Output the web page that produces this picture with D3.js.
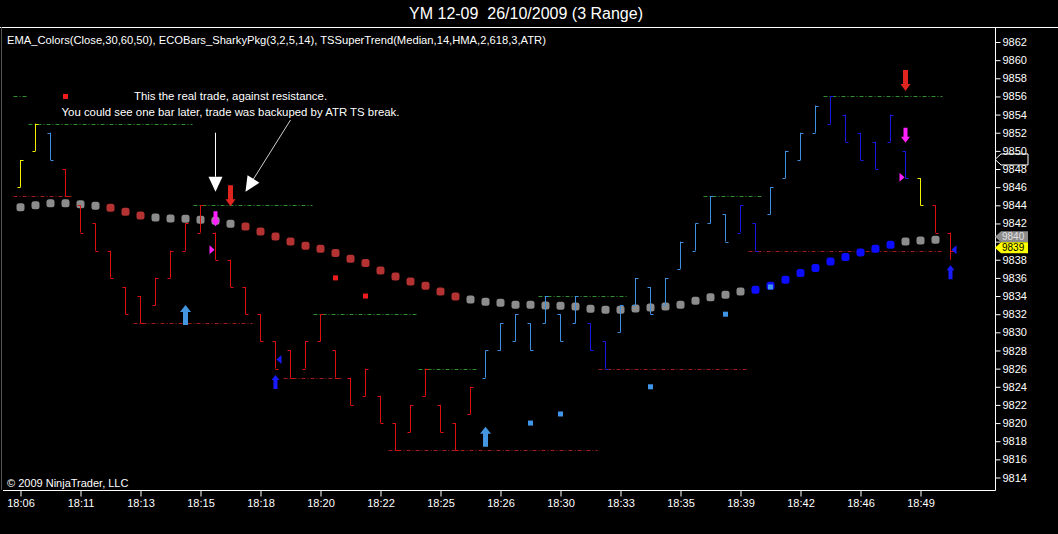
<!DOCTYPE html>
<html>
<head>
<meta charset="utf-8">
<script src="https://cdn.jsdelivr.net/npm/d3@7"></script>
<style>
html, body { margin: 0; padding: 0; background: #000; }
svg { display: block; font-family: Arial, "Liberation Sans", sans-serif; }
</style>
</head>
<body>
<svg id="chart" width="1058" height="534"></svg>
<script>
// values

var tickBars = [0, 4, 8, 12, 16, 20, 24, 28, 32, 36, 40, 44, 48, 52, 56, 60]
var timeLabels = ['18:06', '18:11', '18:13', '18:15', '18:18', '18:20', '18:22', '18:25',
                  '18:26', '18:30', '18:33', '18:35', '18:39', '18:42', '18:46', '18:49']
var priceTicks = [9814, 9816, 9818, 9820, 9822, 9824, 9826, 9828, 9830, 9832, 9834, 9836, 9838,
                  9840, 9842, 9844, 9846, 9848, 9850, 9852, 9854, 9856, 9858, 9860, 9862]

// 3 range bars
var barOpen = [9846, 9850, 9852, 9848, 9844, 9842, 9839, 9835, 9834, 9833,
               9836, 9839, 9841, 9841, 9838, 9835, 9832, 9829, 9828, 9826,
               9829, 9828, 9825, 9823, 9823, 9820, 9819, 9823, 9822, 9820,
               9821, 9825, 9828, 9829, 9831, 9831, 9832, 9831, 9831, 9829,
               9830, 9833, 9835, 9833, 9837, 9839, 9842, 9843, 9841, 9842,
               9843, 9847, 9849, 9852, 9853, 9854, 9852, 9851, 9851, 9850,
               9847, 9844, 9841]
var barHigh = [9849, 9853, 9852, 9848, 9844, 9842, 9839, 9835, 9834, 9836,
               9839, 9842, 9844, 9841, 9838, 9835, 9832, 9829, 9828, 9829,
               9832, 9828, 9825, 9826, 9823, 9820, 9822, 9826, 9822, 9820,
               9824, 9828, 9831, 9832, 9831, 9834, 9832, 9834, 9831, 9829,
               9833, 9836, 9835, 9836, 9840, 9842, 9845, 9843, 9844, 9842,
               9846, 9850, 9852, 9855, 9856, 9854, 9852, 9851, 9854, 9850,
               9847, 9844, 9841]
var barLow = [9846, 9850, 9849, 9845, 9841, 9839, 9836, 9832, 9831, 9833,
              9836, 9839, 9841, 9838, 9835, 9832, 9829, 9826, 9825, 9826,
              9829, 9825, 9822, 9823, 9820, 9817, 9819, 9823, 9819, 9817,
              9821, 9825, 9828, 9829, 9828, 9831, 9829, 9831, 9828, 9826,
              9830, 9833, 9832, 9833, 9837, 9839, 9842, 9840, 9841, 9839,
              9843, 9847, 9849, 9852, 9853, 9851, 9849, 9848, 9851, 9847,
              9844, 9841, 9838]
var barClose = [9849, 9853, 9849, 9845, 9841, 9839, 9836, 9832, 9831, 9836,
                9839, 9842, 9844, 9838, 9835, 9832, 9829, 9826, 9825, 9829,
                9832, 9825, 9822, 9826, 9820, 9817, 9822, 9826, 9819, 9817,
                9824, 9828, 9831, 9832, 9828, 9834, 9829, 9834, 9828, 9826,
                9833, 9836, 9832, 9836, 9840, 9842, 9845, 9840, 9844, 9839,
                9846, 9850, 9852, 9855, 9856, 9851, 9849, 9848, 9854, 9847,
                9844, 9841, 9839]
// ECOBars state: Y neutral, L up, D up weakening, R down
var barState = ['Y', 'Y', 'L', 'R', 'R', 'R', 'R', 'R', 'R', 'R',
                'R', 'R', 'R', 'R', 'R', 'R', 'R', 'R', 'R', 'R',
                'R', 'R', 'R', 'R', 'R', 'R', 'R', 'R', 'R', 'R',
                'R', 'L', 'L', 'L', 'L', 'L', 'L', 'L', 'D', 'D',
                'L', 'L', 'L', 'L', 'L', 'L', 'L', 'L', 'D', 'D',
                'L', 'L', 'L', 'L', 'D', 'D', 'D', 'D', 'D', 'D',
                'Y', 'R', 'R']

// EMA_Colors
var emaValue = [9843.80, 9844.02, 9844.24, 9844.24, 9844.13, 9843.94, 9843.72, 9843.28, 9842.87, 9842.66,
                9842.55, 9842.51, 9842.40, 9842.29, 9841.96, 9841.67, 9841.11, 9840.56, 9840.01, 9839.54,
                9839.21, 9838.74, 9838.11, 9837.64, 9836.82, 9836.16, 9835.61, 9835.14, 9834.51, 9833.96,
                9833.63, 9833.38, 9833.27, 9833.04, 9833.04, 9832.97, 9832.93, 9832.86, 9832.60, 9832.49,
                9832.49, 9832.64, 9832.75, 9832.86, 9833.04, 9833.49, 9833.87, 9834.15, 9834.51, 9834.70,
                9835.14, 9835.80, 9836.53, 9837.08, 9837.81, 9838.30, 9838.80, 9839.21, 9839.65, 9840.01,
                9840.12, 9840.20]
var emaState = ['G', 'G', 'G', 'G', 'G', 'G', 'R', 'R', 'R', 'G',
                'G', 'G', 'G', 'G', 'G', 'R', 'R', 'R', 'R', 'R',
                'R', 'R', 'R', 'R', 'R', 'R', 'R', 'R', 'R', 'R',
                'G', 'G', 'G', 'G', 'G', 'G', 'G', 'G', 'G', 'G',
                'G', 'G', 'G', 'G', 'G', 'G', 'G', 'G', 'G', 'B',
                'B', 'B', 'B', 'B', 'B', 'B', 'B', 'B', 'B', 'G',
                'G', 'G']

// TSSuperTrend levels
var resStart = [0, 1, 12, 20, 27, 35, 46, 54]
var resEnd = [0, 11, 19, 26, 30, 40, 49, 61]
var resPrice = [9856, 9853, 9844, 9832, 9826, 9834, 9845, 9856]
var supStart = [0, 8, 18, 25, 39, 49]
var supEnd = [3, 15, 21, 38, 48, 61]
var supPrice = [9845, 9831, 9825, 9817, 9826, 9839]

// signal arrows, triangles and small squares
var arrowBar = [11, 31, 17, 62, 14, 59, 59, 13]
var arrowTip = [9833.0, 9819.6, 9825.3, 9837.4, 9843.9, 9856.6, 9850.9, 9841.7]
var arrowKind = ['upLight', 'upLight', 'upDark', 'upDark', 'downRed', 'downRed', 'downMag', 'downMag']
var triBar = [13, 59, 17, 62]
var triPrice = [9839.1, 9847.1, 9827.0, 9839.1]
var triKind = ['right', 'right', 'left', 'left']
var sqBar = [3, 21, 23, 34, 36, 42, 47, 50]
var sqPrice = [9856, 9836, 9834, 9820, 9821, 9824, 9832, 9835]
var sqKind = ['R', 'R', 'R', 'L', 'L', 'L', 'L', 'L']

// hand drawn notes
var noteText = ['This the real trade, against resistance.',
                'You could see one bar later, trade was backuped by ATR TS break.']
var noteTextBar = 14
var noteTextPrice = [9856.0, 9854.3]
var noteFromBar = [13, 18]
var noteFromPrice = [9852.0, 9853.4]
var noteToBar = [13, 15]
var noteToPrice = [9845.5, 9845.5]

var lastPrice = 9839
var emaLast = 9840
var stopPrice = 9849

var svg = d3.select('#chart')
var W = 1058, H = 534
var axisX = 995, axisY = 490, topY = 27

svg.append('rect').attr('width', W).attr('height', H).attr('fill', '#000')

var x = d3.scaleLinear().domain([0, 62]).range([20.5, 950.5])
var y = d3.scaleLinear().domain([9814, 9862]).range([477.5, 42])

var barColour = d3.scaleOrdinal().domain(['Y', 'L', 'D', 'R'])
                  .range(['#f2f200', '#3f8fe0', '#1818e0', '#dd1010'])
var emaColour = d3.scaleOrdinal().domain(['G', 'R', 'B'])
                  .range(['#8c8c8c', '#b53232', '#0c0cff'])

// frame
svg.append('line').attr('x1', 0).attr('x2', W).attr('y1', topY + 0.5).attr('y2', topY + 0.5)
   .attr('stroke', '#fff')
svg.append('line').attr('x1', axisX + 0.5).attr('x2', axisX + 0.5).attr('y1', topY).attr('y2', axisY + 0.5)
   .attr('stroke', '#fff')
svg.append('line').attr('x1', 1.5).attr('x2', 1.5).attr('y1', topY).attr('y2', axisY)
   .attr('stroke', '#555')

// title + indicator line
svg.append('text').attr('x', 526).attr('y', 19).attr('text-anchor', 'middle')
   .attr('fill', '#fff').attr('font-size', 16).style('white-space', 'pre')
   .text('YM 12-09  26/10/2009 (3 Range)')
svg.append('text').attr('x', 7).attr('y', 44).attr('fill', '#fff').attr('font-size', 11.2)
   .text('EMA_Colors(Close,30,60,50), ECOBars_SharkyPkg(3,2,5,14), TSSuperTrend(Median,14,HMA,2,618,3,ATR)')
svg.append('text').attr('x', 7).attr('y', 487).attr('fill', '#fff').attr('font-size', 11)
   .text('\u00a9 2009 NinjaTrader, LLC')

// axes
var yAxis = svg.append('g').attr('transform', 'translate(' + (axisX + 0.5) + ',0)')
   .call(d3.axisRight(y).tickValues(priceTicks).tickSize(5).tickPadding(2).tickFormat(d3.format('d')))
yAxis.select('.domain').remove()
yAxis.selectAll('line').attr('stroke', '#fff')
yAxis.selectAll('text').attr('fill', '#fff').attr('font-size', 11).attr('font-family', 'Arial, sans-serif')
// the EMA marker sits on top of its own tick label
yAxis.selectAll('.tick').filter(function(d) { return d == emaLast }).select('text').remove()

var xAxis = svg.append('g').attr('transform', 'translate(0,' + (axisY + 0.5) + ')')
   .call(d3.axisBottom(x).tickValues(tickBars).tickSize(6).tickPadding(3)
           .tickFormat(function(d, i) { return timeLabels[i] }))
xAxis.select('.domain').attr('stroke', '#fff').attr('d', 'M3,0H' + (axisX + 0.5))
xAxis.selectAll('line').attr('stroke', '#fff')
xAxis.selectAll('text').attr('fill', '#fff').attr('font-size', 11).attr('font-family', 'Arial, sans-serif')

// supertrend dashed levels
function levels(starts, ends, prices, colour) {
  svg.append('g').selectAll('line')
     .data(prices)
     .enter()
     .append('line')
     .attr('x1', function(d, i) { return x(starts[i]) - 7 })
     .attr('x2', function(d, i) { return x(ends[i]) + 7 })
     .attr('y1', function(d) { return Math.round(y(d)) + 0.5 })
     .attr('y2', function(d) { return Math.round(y(d)) + 0.5 })
     .attr('stroke', colour)
     .attr('stroke-dasharray', '4,2,1,2')
}
levels(resStart, resEnd, resPrice, '#2f8f2f')
levels(supStart, supEnd, supPrice, '#a01c1c')

// ema dots
svg.append('g').selectAll('rect')
   .data(emaValue)
   .enter()
   .append('rect')
   .attr('x', function(d, i) { return x(i) - 4 })
   .attr('y', function(d) { return y(d) - 4 })
   .attr('width', 8)
   .attr('height', 8)
   .attr('rx', 2.5)
   .attr('fill', function(d, i) { return emaColour(emaState[i]) })

// range bars
var bars = svg.append('g').selectAll('g')
   .data(barHigh)
   .enter()
   .append('g')
   .attr('stroke', function(d, i) { return barColour(barState[i]) })
bars.append('line')
    .attr('x1', function(d, i) { return x(i) })
    .attr('x2', function(d, i) { return x(i) })
    .attr('y1', function(d) { return y(d) })
    .attr('y2', function(d, i) { return y(barLow[i]) })
bars.append('line')
    .attr('x1', function(d, i) { return x(i) - 3 })
    .attr('x2', function(d, i) { return x(i) })
    .attr('y1', function(d, i) { return Math.round(y(barOpen[i])) + 0.5 })
    .attr('y2', function(d, i) { return Math.round(y(barOpen[i])) + 0.5 })
bars.append('line')
    .attr('x1', function(d, i) { return x(i) })
    .attr('x2', function(d, i) { return x(i) + 3 })
    .attr('y1', function(d, i) { return Math.round(y(barClose[i])) + 0.5 })
    .attr('y2', function(d, i) { return Math.round(y(barClose[i])) + 0.5 })

// small squares
var sqColour = { R: '#ee1c1c', L: '#3f95e8' }
svg.append('g').selectAll('rect')
   .data(sqPrice)
   .enter()
   .append('rect')
   .attr('x', function(d, i) { return x(sqBar[i]) - 2.5 })
   .attr('y', function(d) { return y(d) - 2.5 })
   .attr('width', 5)
   .attr('height', 5)
   .attr('fill', function(d, i) { return sqColour[sqKind[i]] })

// triangles
svg.append('g').selectAll('path')
   .data(triPrice)
   .enter()
   .append('path')
   .attr('d', function(d, i) {
     var cx = x(triBar[i]), cy = y(d)
     if (triKind[i] == 'right') {
       return 'M' + (cx - 6) + ',' + (cy - 4.5) + 'L' + (cx - 1) + ',' + cy + 'L' + (cx - 6) + ',' + (cy + 4.5) + 'Z'
     }
     return 'M' + (cx + 6) + ',' + (cy - 4.5) + 'L' + (cx + 1) + ',' + cy + 'L' + (cx + 6) + ',' + (cy + 4.5) + 'Z'
   })
   .attr('fill', function(d, i) { return triKind[i] == 'right' ? '#ff20ff' : '#1a1aff' })

// signal arrows
var arrowStyle = {
  upLight: { dir: -1, len: 20, headW: 11, headH: 7, shaftW: 5, fill: '#4596e0' },
  upDark:  { dir: -1, len: 14, headW: 8, headH: 5, shaftW: 4, fill: '#1a1aff' },
  downRed: { dir: 1, len: 21, headW: 10, headH: 7, shaftW: 5, fill: '#e02420' },
  downMag: { dir: 1, len: 15, headW: 9, headH: 6, shaftW: 4, fill: '#ff20ff' }
}
function arrowPath(cx, tip, s) {
  var tail = tip - s.dir * s.len, hb = tip - s.dir * s.headH
  return 'M' + cx + ',' + tip +
         'L' + (cx + s.headW / 2) + ',' + hb + 'L' + (cx + s.shaftW / 2) + ',' + hb +
         'L' + (cx + s.shaftW / 2) + ',' + tail + 'L' + (cx - s.shaftW / 2) + ',' + tail +
         'L' + (cx - s.shaftW / 2) + ',' + hb + 'L' + (cx - s.headW / 2) + ',' + hb + 'Z'
}
svg.append('g').selectAll('path')
   .data(arrowTip)
   .enter()
   .append('path')
   .attr('d', function(d, i) { return arrowPath(x(arrowBar[i]), y(d), arrowStyle[arrowKind[i]]) })
   .attr('fill', function(d, i) { return arrowStyle[arrowKind[i]].fill })

// notes
var notes = svg.append('g')
notes.selectAll('text')
     .data(noteText)
     .enter()
     .append('text')
     .attr('x', x(noteTextBar))
     .attr('y', function(d, i) { return y(noteTextPrice[i]) + 4 })
     .attr('text-anchor', 'middle')
     .attr('fill', '#fff')
     .attr('font-size', 11.4)
     .text(function(d) { return d })
noteFromBar.forEach(function(b, i) {
  var x0 = x(b), y0 = y(noteFromPrice[i]), x1 = x(noteToBar[i]), y1 = y(noteToPrice[i])
  var dx = x1 - x0, dy = y1 - y0, l = Math.sqrt(dx * dx + dy * dy)
  var ux = dx / l, uy = dy / l, hl = 15, hw = 7
  var bx = x1 - ux * hl, by = y1 - uy * hl
  notes.append('line').attr('x1', x0).attr('y1', y0).attr('x2', bx).attr('y2', by)
       .attr('stroke', i == 0 ? '#fff' : '#cfcfcf')
  notes.append('path')
       .attr('d', 'M' + x1 + ',' + y1 + 'L' + (bx - uy * hw) + ',' + (by + ux * hw) +
                  'L' + (bx + uy * hw) + ',' + (by - ux * hw) + 'Z')
       .attr('fill', '#fff')
})

// price markers on the axis
function marker(cy, fill, stroke, label, textColour) {
  var h = 5.5
  svg.append('path')
     .attr('d', 'M' + axisX + ',' + cy + 'L' + (axisX + 6) + ',' + (cy - h) + 'H1028V' + (cy + h) +
                'H' + (axisX + 6) + 'Z')
     .attr('fill', fill)
     .attr('stroke', stroke)
  if (label) {
    svg.append('text').attr('x', 1002).attr('y', cy + 3.5).attr('fill', textColour)
       .attr('font-size', 10).text(label)
  }
}
marker(y(stopPrice) - 0.5, 'none', '#fff', null)
marker(y(lastPrice) - 14, '#8c8c8c', 'none', String(emaLast), '#e0e0e0')
marker(y(lastPrice) - 3, '#ffff00', 'none', String(lastPrice), '#000')
</script>
</body>
</html>
